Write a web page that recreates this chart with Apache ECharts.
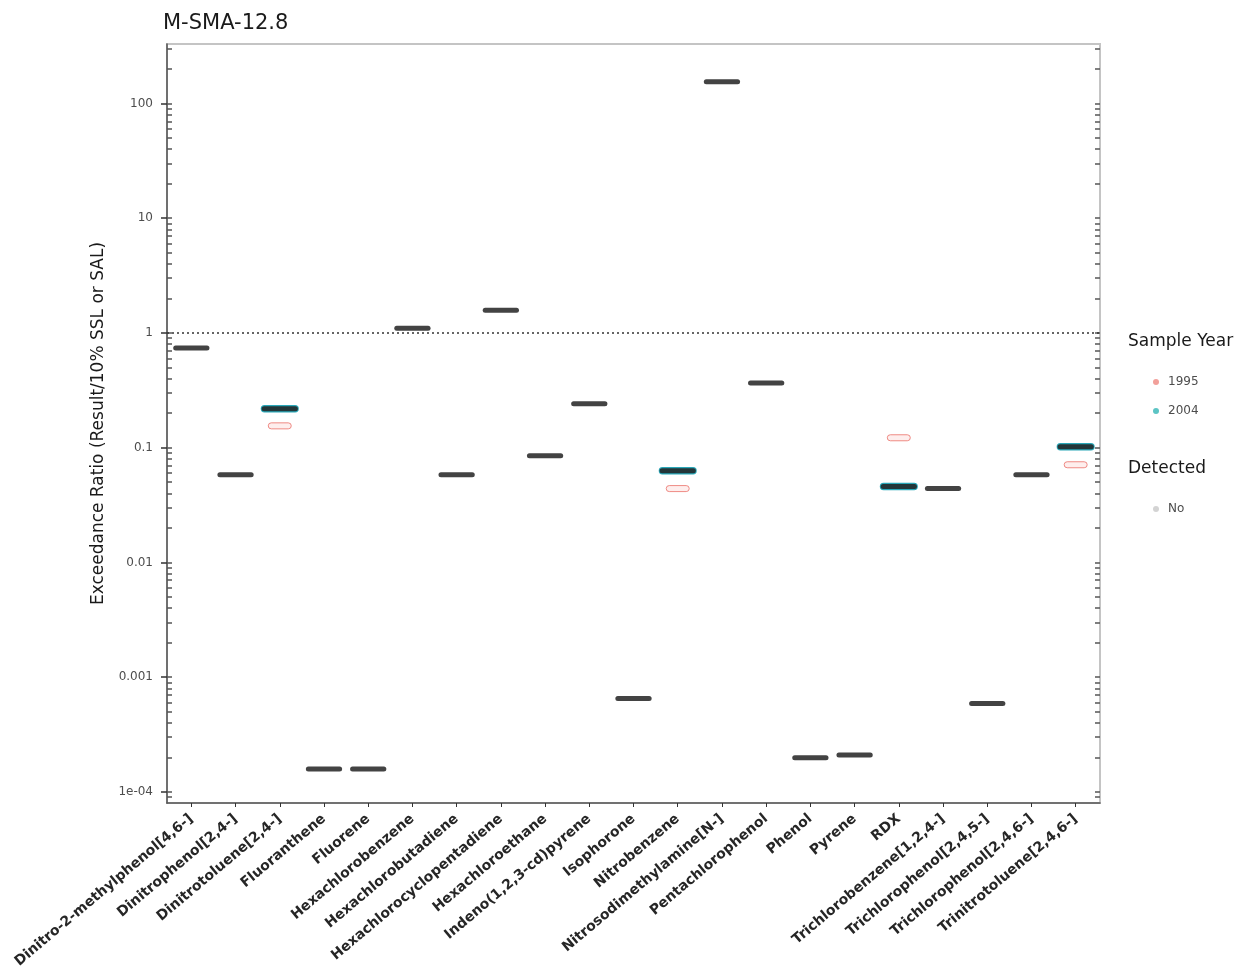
<!DOCTYPE html>
<html>
<head>
<meta charset="utf-8">
<script src="https://cdn.jsdelivr.net/npm/echarts@6/dist/echarts.min.js"></script>
<style>
html,body{margin:0;padding:0;background:#fff;}
#chart{width:1245px;height:979px;}
</style>
</head>
<body>
<div id="chart"></div>
<script>
// ---- data ----
const categories = [
  'Dinitro-2-methylphenol[4,6-]','Dinitrophenol[2,4-]','Dinitrotoluene[2,4-]','Fluoranthene','Fluorene',
  'Hexachlorobenzene','Hexachlorobutadiene','Hexachlorocyclopentadiene','Hexachloroethane',
  'Indeno(1,2,3-cd)pyrene','Isophorone','Nitrobenzene','Nitrosodimethylamine[N-]','Pentachlorophenol',
  'Phenol','Pyrene','RDX','Trichlorobenzene[1,2,4-]','Trichlorophenol[2,4,5-]','Trichlorophenol[2,4,6-]',
  'Trinitrotoluene[2,4,6-]'
];
// exceedance ratio of each analyte (black median bars)
const ratioAll = [0.74, 0.058, 0.218, 1.58e-4, 1.58e-4, 1.10, 0.058, 1.58, 0.085, 0.241, 6.5e-4,
  0.063, 155, 0.367, 1.98e-4, 2.1e-4, 0.0458, 0.044, 5.9e-4, 0.058, 0.102];
// 2004 samples visible in colour
const ratio2004 = [null, null, 0.218, null, null, null, null, null, null, null, null,
  0.063, null, null, null, null, 0.0458, null, null, null, 0.102];
// 1995 samples (not detected)
const ratio1995 = [null, null, 0.155, null, null, null, null, null, null, null, null,
  0.044, null, null, null, null, 0.122, null, null, null, 0.071];
const yTickValues = [1e-4, 1e-3, 1e-2, 0.1, 1, 10, 100];
const yTickLabels = ['1e-04', '0.001', '0.01', '0.1', '1', '10', '100'];
const referenceLine = 1;

// ---- helpers ----
const catIdx = categories.map((c, i) => i);
const minorTicks = [9e-5];
yTickValues.forEach(d => { for (let k = 2; k <= 9; k++) minorTicks.push(d * k); });
const toPairs = arr => arr.map((v, i) => v == null ? null : [i, v]).filter(Boolean);

function barRenderer(fill, halfW, h, extra) {
  return function (params, api) {
    const x = api.value(0), y = api.value(1);
    const l = api.coord([x - halfW, y]);
    const r = api.coord([x + halfW, y]);
    return {
      type: 'rect',
      shape: { x: l[0], y: l[1] - h / 2, width: r[0] - l[0], height: h, r: h / 2 },
      style: Object.assign({ fill: fill }, extra || {})
    };
  };
}

const chart = echarts.init(document.getElementById('chart'), null, { renderer: 'canvas' });
const FONT = 'DejaVu Sans';
const logAxisBase = { type: 'log', logBase: 10, min: 8e-5, max: 330 };
const option = {
  animation: false,
  backgroundColor: '#ffffff',
  textStyle: { fontFamily: FONT },
  title: {
    text: 'M-SMA-12.8', left: 158, top: 8,
    textStyle: { fontFamily: FONT, fontSize: 21, fontWeight: 'normal', color: '#1a1a1a' }
  },
  graphic: [
    { type: 'text', left: 1128, top: 333, style: { text: 'Sample Year', font: '17px "DejaVu Sans"', fill: '#1a1a1a' } },
    { type: 'text', left: 1128, top: 460, style: { text: 'Detected', font: '17px "DejaVu Sans"', fill: '#1a1a1a' } }
  ],
  legend: [
    {
      data: [{ name: '1995', itemStyle: { color: '#f2a09a' } }, { name: '2004', itemStyle: { color: '#5cc4c4' } }],
      orient: 'vertical', left: 1148, top: 371, itemWidth: 6, itemHeight: 6, itemGap: 17,
      icon: 'circle', textStyle: { fontFamily: FONT, fontSize: 12, color: '#4d4d4d', padding: [0, 0, 0, 4] }
    },
    {
      data: [{ name: 'No', itemStyle: { color: '#c8c8c8' } }],
      orient: 'vertical', left: 1148, top: 498, itemWidth: 6, itemHeight: 6,
      icon: 'circle', textStyle: { fontFamily: FONT, fontSize: 12, color: '#4d4d4d', padding: [0, 0, 0, 4] }
    }
  ],
  grid: {
    left: 167, right: 145, top: 44, bottom: 176, show: true,
    borderColor: '#c4c4c4', borderWidth: 2, containLabel: false
  },
  xAxis: {
    type: 'value', min: -0.55, max: 20.55,
    splitLine: { show: false },
    axisLine: { show: true, onZero: false, lineStyle: { color: '#555', width: 1.5 } },
    axisTick: { show: true, customValues: catIdx, length: 4, lineStyle: { color: '#333' } },
    axisLabel: {
      customValues: catIdx, rotate: 40, margin: 14,
      formatter: v => categories[Math.round(v)],
      fontFamily: FONT, fontSize: 14, fontWeight: 'bold', color: '#262626'
    }
  },
  yAxis: [
    Object.assign({}, logAxisBase, {
      position: 'left',
      name: 'Exceedance Ratio (Result/10% SSL or SAL)', nameLocation: 'middle', nameGap: 56,
      nameTextStyle: { fontFamily: FONT, fontSize: 17, color: '#1a1a1a' },
      splitLine: { show: false },
      axisLine: { show: true, onZero: false, lineStyle: { color: '#555', width: 1.5 } },
      axisTick: { show: true, customValues: yTickValues, length: 6, lineStyle: { color: '#333', width: 1.5 } },
      axisLabel: {
        customValues: yTickValues, margin: 14,
        formatter: v => { const i = yTickValues.findIndex(t => Math.abs(Math.log10(t) - Math.log10(v)) < 1e-6); return i >= 0 ? yTickLabels[i] : ''; },
        fontFamily: FONT, fontSize: 12, color: '#4d4d4d'
      }
    }),
    Object.assign({}, logAxisBase, {
      position: 'left',
      splitLine: { show: false }, axisLine: { show: false, onZero: false }, axisLabel: { show: false },
      axisTick: { show: true, inside: true, customValues: yTickValues.concat(minorTicks), length: 5, lineStyle: { color: '#555', width: 1.5 } }
    }),
    Object.assign({}, logAxisBase, {
      position: 'right',
      splitLine: { show: false }, axisLine: { show: false, onZero: false }, axisLabel: { show: false },
      axisTick: { show: true, inside: true, customValues: yTickValues.concat(minorTicks), length: 5, lineStyle: { color: '#555', width: 1.5 } }
    })
  ],
  series: [
    {
      name: '2004', type: 'custom', itemStyle: { color: '#2aaebc' },
      renderItem: barRenderer('#2aa7b8', 0.43, 7.5),
      data: toPairs(ratio2004), z: 2
    },
    {
      name: 'Result', type: 'custom', itemStyle: { color: '#2b2b2b' },
      renderItem: barRenderer('rgba(34,34,34,0.85)', 0.41, 5),
      data: toPairs(ratioAll), z: 3,
      markLine: {
        silent: true, symbol: 'none', label: { show: false },
        lineStyle: { type: [2, 3], color: '#333', width: 1.5 },
        data: [{ yAxis: referenceLine }]
      }
    },
    {
      name: '1995', type: 'custom', itemStyle: { color: '#f2a09a' },
      renderItem: barRenderer('rgba(248,118,109,0.12)', 0.26, 6, { stroke: '#ef8a84', lineWidth: 1 }),
      data: toPairs(ratio1995), z: 2
    },
    { name: 'No', type: 'scatter', data: [], itemStyle: { color: '#c8c8c8' } }
  ]
};
chart.setOption(option);
</script>
</body>
</html>
